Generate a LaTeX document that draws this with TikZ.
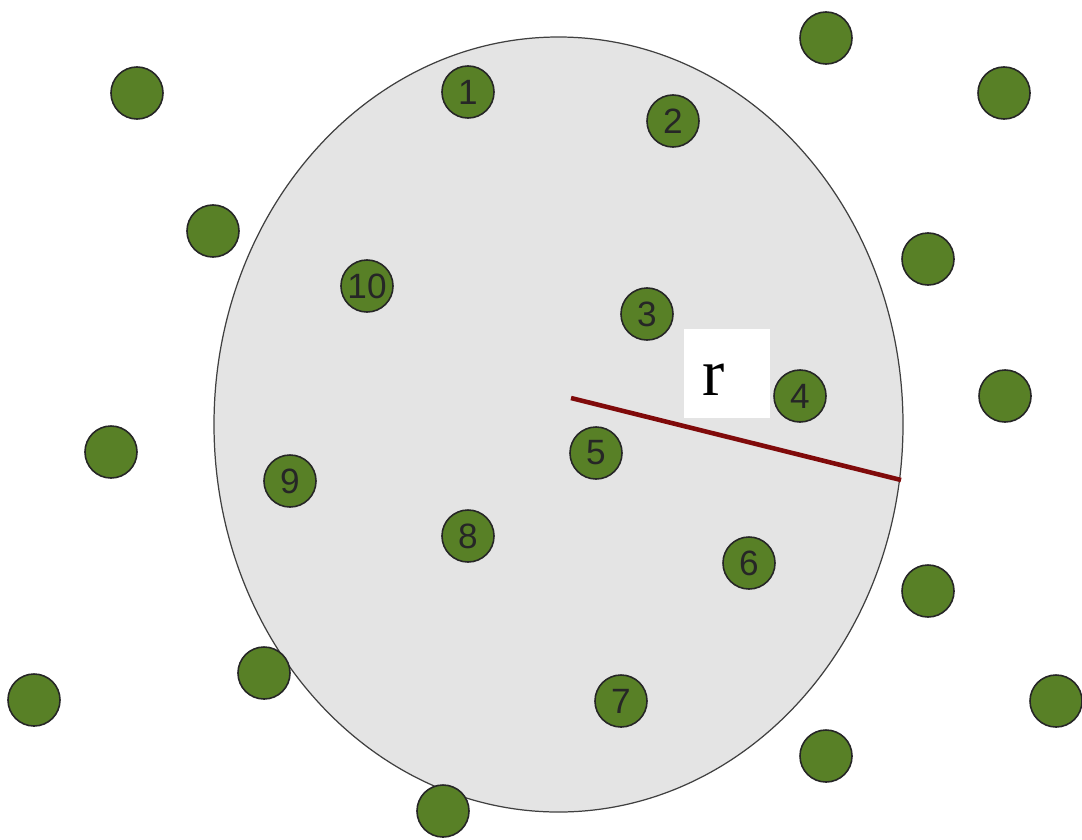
\documentclass[tikz,border=0pt]{standalone}
\usepackage{fontspec}
\setmainfont{Liberation Serif}
\setsansfont{Liberation Sans}
\usetikzlibrary{positioning}
\definecolor{leafgreen}{RGB}{88,128,38}
\definecolor{areagray}{RGB}{228,228,228}
\definecolor{radiusred}{RGB}{128,10,10}

\begin{document}
\begin{tikzpicture}[x=0.01cm, y=-0.01cm,
        dot/.style={circle, draw=black!85, fill=leafgreen, line width=0.45pt, minimum size=0.52cm, inner sep=0pt, font=\sffamily\fontsize{10}{12}\selectfont, text=black!85},
        area/.style={draw=black!75, fill=areagray, line width=0.35pt},
        radius line/.style={radiusred, line width=1.3pt}
    ]
        \useasboundingbox (0,0) rectangle (1082,839);

        % neighbourhood
        \draw[area] (558.5,424.5) ellipse [x radius=344.5, y radius=387.5];
        \coordinate (centre) at (571,398);
        \coordinate (rim) at (901,480);
        \draw[radius line] (centre) -- (rim);
        \node[fill=white, inner xsep=0.19cm, inner ysep=0pt, text width=0.48cm, align=left,
              minimum height=0.89cm, text height=0.43cm, text depth=0pt,
              font=\fontsize{19}{22}\selectfont] (rlabel) at (727,373.5) {r};

        % nodes inside
        \node[dot] (n1) at (468,92) {1};
        \node[dot] (n2) at (673,121) {2};
        \node[dot] (n3) at (647,314) {3};
        \node[dot] (n4) at (800,396) {4};
        \node[dot] (n5) at (596,453) {5};
        \node[dot] (n6) at (749,563) {6};
        \node[dot] (n7) at (621,701) {7};
        \node[dot] (n8) at (468,536) {8};
        \node[dot] (n9) at (290,481) {9};
        \node[dot] (n10) at (367,286) {10};

        % nodes outside
        \node[dot] (o1) at (137,93) {};
        \node[dot] (o2) at (826,38) {};
        \node[dot] (o3) at (1004,93) {};
        \node[dot] (o4) at (213,231) {};
        \node[dot] (o5) at (928,259) {};
        \node[dot] (o6) at (111,452) {};
        \node[dot] (o7) at (1005,396) {};
        \node[dot] (o8) at (928,591) {};
        \node[dot] (o9) at (264,673) {};
        \node[dot] (o10) at (34,700) {};
        \node[dot] (o11) at (1056,701) {};
        \node[dot] (o12) at (826,756) {};
        \node[dot] (o13) at (443,811) {};
    \end{tikzpicture}
\end{document}
